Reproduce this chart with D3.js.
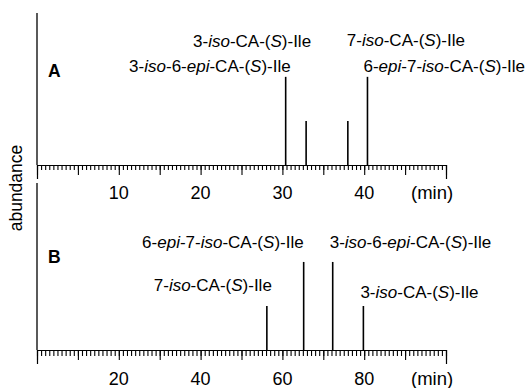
<!DOCTYPE html>
<html>
<head>
<meta charset="utf-8">
<script src="https://cdn.jsdelivr.net/npm/d3@7"></script>
<style>
  body { margin: 0; background: #fff; }
  svg { display: block; font-family: "Liberation Sans", Arial, sans-serif; }
</style>
</head>
<body>
<svg id="chart" width="527" height="388"></svg>
<script>
// peak retention times (min) and relative abundance
const timesA = [30.4, 32.9, 38.0, 40.4];
const heightsA = [58, 29, 29, 58];
const namesA = ["3-*iso*-6-*epi*-CA-(*S*)-Ile", "3-*iso*-CA-(*S*)-Ile", "7-*iso*-CA-(*S*)-Ile", "6-*epi*-7-*iso*-CA-(*S*)-Ile"];

const timesB = [56.2, 65.2, 72.3, 79.8];
const heightsB = [29, 58, 58, 29];
const namesB = ["7-*iso*-CA-(*S*)-Ile", "6-*epi*-7-*iso*-CA-(*S*)-Ile", "3-*iso*-6-*epi*-CA-(*S*)-Ile", "3-*iso*-CA-(*S*)-Ile"];

const tickLabelsA = [10, 20, 30, 40];
const tickLabelsB = [20, 40, 60, 80];

const svg = d3.select("#chart");

// split "3-*iso*-CA" into normal / italic runs
function richText(sel, str) {
    str.split("*").forEach((part, i) => {
        if (!part) return;
        sel.append("tspan")
            .style("font-style", i % 2 ? "italic" : "normal")
            .text(part);
    });
}

function drawPanel(p) {
    const x = d3.scaleLinear().domain([0, p.xMax]).range([37, 446]);
    const y = d3.scaleLinear().domain([0, p.yMax]).range([p.base, p.top]);
    const g = svg.append("g");

    // y axis: plain line, no ticks
    g.append("line")
        .attr("x1", x(0)).attr("x2", x(0))
        .attr("y1", y(p.yMax)).attr("y2", y(0))
        .attr("stroke", "#000").attr("stroke-width", 1.3);

    // ruler style x axis, ticks hang down
    const minor = d3.axisBottom(x)
        .tickValues(d3.range(0, p.xMax + 1e-6, p.minorStep))
        .tickSize(p.minorLen).tickSizeOuter(14)
        .tickFormat("");
    const major = d3.axisBottom(x)
        .tickValues(d3.range(0, p.xMax + 1e-6, p.majorStep))
        .tickSize(10).tickSizeOuter(14)
        .tickFormat("");

    [minor, major].forEach(ax => {
        const a = g.append("g")
            .attr("transform", `translate(0,${y(0)})`)
            .call(ax);
        a.selectAll("line, path").attr("stroke", "#000").attr("stroke-width", 1.1);
    });

    g.selectAll("text.tick-label")
        .data(p.tickLabels)
        .enter()
        .append("text")
        .attr("class", "tick-label")
        .attr("x", d => x(d))
        .attr("y", p.tickY)
        .attr("text-anchor", "middle")
        .style("font-size", "18px")
        .text(d => d);

    g.append("text")
        .attr("x", 411)
        .attr("y", p.tickY)
        .style("font-size", "18.5px")
        .text("(min)");

    // peaks
    g.selectAll("line.peak")
        .data(p.times)
        .enter()
        .append("line")
        .attr("class", "peak")
        .attr("x1", d => x(d)).attr("x2", d => x(d))
        .attr("y1", y(0))
        .attr("y2", (d, i) => y(p.heights[i]))
        .attr("stroke", "#000")
        .attr("stroke-width", 1.6);

    // peak names
    p.names.forEach((name, i) => {
        const lay = p.layout[i];
        const t = g.append("text")
            .attr("x", x(p.times[i]) + lay.dx)
            .attr("y", lay.y)
            .attr("text-anchor", lay.anchor)
            .style("font-size", "17px");
        richText(t, name);
    });

    g.append("text")
        .attr("x", 48)
        .attr("y", p.letterY)
        .style("font-size", "17.5px")
        .style("font-weight", "bold")
        .text(p.letter);
}

drawPanel({
    letter: "A", letterY: 77,
    xMax: 50, minorStep: 0.5, majorStep: 5, minorLen: 5,
    yMax: 100, base: 165, top: 13,
    tickY: 199,
    times: timesA, heights: heightsA, names: namesA, tickLabels: tickLabelsA,
    layout: [
        { anchor: "end", dx: 5, y: 72 },
        { anchor: "end", dx: 5, y: 47 },
        { anchor: "start", dx: -1, y: 46 },
        { anchor: "start", dx: -4, y: 72 }
    ]
});

drawPanel({
    letter: "B", letterY: 263,
    xMax: 100, minorStep: 1, majorStep: 10, minorLen: 6,
    yMax: 110, base: 350, top: 183,
    tickY: 385,
    times: timesB, heights: heightsB, names: namesB, tickLabels: tickLabelsB,
    layout: [
        { anchor: "end", dx: 5, y: 291 },
        { anchor: "end", dx: 0, y: 248 },
        { anchor: "start", dx: -3, y: 248 },
        { anchor: "start", dx: -3, y: 298 }
    ]
});

// shared y axis title
svg.append("text")
    .attr("transform", "translate(22,188) rotate(-90)")
    .attr("text-anchor", "middle")
    .style("font-size", "17.5px")
    .text("abundance");
</script>
</body>
</html>
